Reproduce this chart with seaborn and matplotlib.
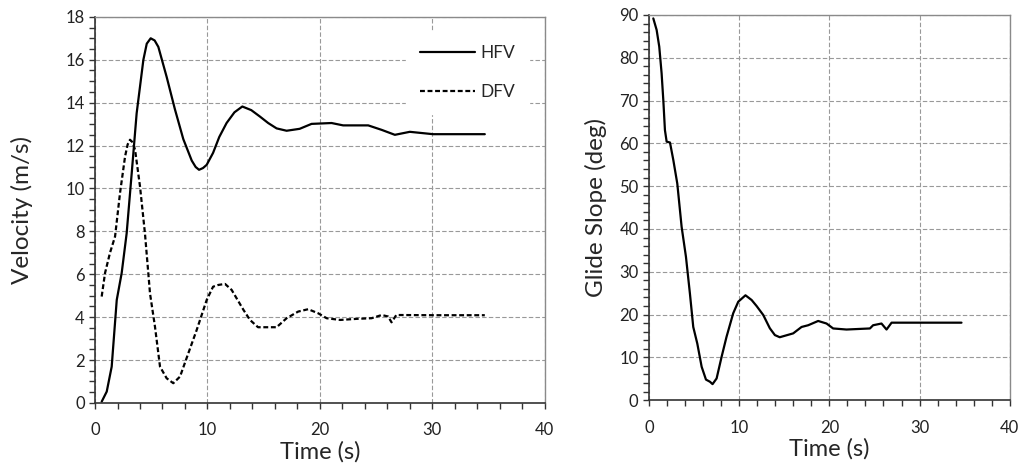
import pandas as pd
import matplotlib
matplotlib.use("Agg")
import matplotlib.pyplot as plt
from matplotlib.ticker import MultipleLocator
import seaborn as sns

# Velocity curves
hfv_t = [0.59, 1.04, 1.48, 1.93, 2.37, 2.81, 3.26, 3.7, 4.3, 4.6, 4.95, 5.3, 5.63, 6.37, 7.1,
         7.85, 8.6, 8.95, 9.25, 9.6, 9.93, 10.5, 11.05, 11.7, 12.4, 13.1, 13.9, 14.67, 15.4,
         16.15, 17.04, 18.2, 19.26, 21.04, 22.07, 24.3, 25.5, 26.67, 28.0, 30.07, 34.67]
hfv_v = [0.06, 0.53, 1.69, 4.8, 6.06, 7.9, 10.7, 13.5, 16.0, 16.75, 17.0, 16.9, 16.6, 15.2, 13.7,
         12.3, 11.3, 11.0, 10.87, 10.95, 11.1, 11.66, 12.4, 13.05, 13.55, 13.82, 13.65, 13.35, 13.05,
         12.8, 12.69, 12.78, 13.01, 13.05, 12.94, 12.94, 12.73, 12.5, 12.64, 12.53, 12.53]

dfv_t = [0.59, 0.89, 1.33, 1.78, 2.22, 2.67, 2.9, 3.11, 3.35, 3.56, 4.0, 4.44, 4.89, 5.33, 5.78,
         6.37, 6.96, 7.56, 8.3, 9.04, 9.93, 10.5, 10.96, 11.56, 12.15, 13.2, 13.78, 14.5, 16.15,
         17.04, 18.07, 18.96, 19.85, 20.6, 21.8, 23.26, 24.6, 25.5, 26.07, 26.37, 26.8,
         30.07, 34.67]
dfv_v = [4.96, 6.06, 7.0, 7.76, 9.78, 11.49, 12.05, 12.27, 12.15, 11.8, 10.09, 7.9, 5.1, 3.56, 1.69,
         1.15, 0.92, 1.23, 2.32, 3.4, 4.8, 5.42, 5.5, 5.55, 5.27, 4.34, 3.87, 3.53, 3.53,
         3.95, 4.26, 4.37, 4.18, 3.95, 3.87, 3.92, 3.95, 4.1, 4.03, 3.76, 4.1,
         4.09, 4.09]

# Glide slope curve
gs_t = [0.48, 0.85, 1.14, 1.4, 1.59, 1.77, 1.96, 2.33, 2.7, 3.14, 3.62, 4.1, 4.54, 4.91,
        5.36, 5.84, 6.32, 6.76, 7.05, 7.5, 8.05, 8.6, 9.34, 9.9, 10.7, 11.38, 11.93,
        12.67, 13.4, 13.96, 14.5, 15.99, 16.92, 17.65, 18.76, 19.69, 20.42, 21.9, 24.5,
        24.85, 25.78, 26.34, 26.9, 30.03, 34.65]
gs_v = [89.2, 86.5, 82.6, 76.4, 70.1, 63.1, 60.4, 60.2, 56.1, 50.6, 40.5, 33.5, 24.9, 17.1,
        13.2, 7.8, 4.8, 4.3, 3.74, 5.07, 10.1, 14.8, 20.3, 23.0, 24.5, 23.4, 22.0,
        19.9, 16.8, 15.2, 14.7, 15.6, 17.1, 17.5, 18.5, 17.9, 16.75, 16.5, 16.75,
        17.5, 17.9, 16.5, 18.1, 18.1, 18.1]

df_hfv = pd.DataFrame({"t": hfv_t, "v": hfv_v})
df_dfv = pd.DataFrame({"t": dfv_t, "v": dfv_v})
df_gs = pd.DataFrame({"t": gs_t, "g": gs_v})

sns.set_style("white")
plt.rcParams["font.family"] = ["Lato", "DejaVu Sans"]

fig = plt.figure(figsize=(10.22, 4.68), dpi=100)
ax1 = fig.add_axes([0.093, 0.139, 0.44, 0.825])
ax2 = fig.add_axes([0.635, 0.145, 0.353, 0.823])

sns.lineplot(data=df_hfv, x="t", y="v", ax=ax1, color="black", lw=1.6, label="HFV")
sns.lineplot(data=df_dfv, x="t", y="v", ax=ax1, color="black", lw=1.6,
             linestyle=(0, (2.2, 1.2)), label="DFV")
sns.lineplot(data=df_gs, x="t", y="g", ax=ax2, color="black", lw=1.6)


def style_axes(ax, ymax, ymajor, yminor, ylabel, ypad):
    ax.set_xlim(0, 40)
    ax.set_ylim(0, ymax)
    ax.xaxis.set_major_locator(MultipleLocator(10))
    ax.xaxis.set_minor_locator(MultipleLocator(2))
    ax.yaxis.set_major_locator(MultipleLocator(ymajor))
    ax.yaxis.set_minor_locator(MultipleLocator(yminor))
    ax.grid(True, which="major", linestyle=(0, (4, 2)), color="#999999", lw=0.8)
    ax.set_axisbelow(True)
    ax.tick_params(which="both", direction="out", length=4, width=1, color="#333333",
                   labelsize=12, labelcolor="#222222", bottom=True, left=True)
    ax.tick_params(axis="x", pad=10)
    for s in ["left", "bottom"]:
        ax.spines[s].set_color("#333333")
        ax.spines[s].set_linewidth(1.2)
    for s in ["top", "right"]:
        ax.spines[s].set_color("#8a8a8a")
        ax.spines[s].set_linewidth(1.0)
    ax.set_xlabel("Time (s)", fontsize=17, labelpad=2)
    ax.set_ylabel(ylabel, fontsize=17.5, labelpad=ypad)


style_axes(ax1, 18, 2, 0.5, "Velocity (m/s)", 23)
style_axes(ax2, 90, 10, 2, "Glide Slope (deg)", 9)

leg = ax1.legend(loc="upper right", bbox_to_anchor=(0.985, 0.985), frameon=True,
                 fontsize=12.5, handlelength=3.2, labelspacing=1.3, handletextpad=0.3,
                 borderpad=0.8)
leg.get_frame().set_facecolor("white")
leg.get_frame().set_edgecolor("white")
leg.get_frame().set_alpha(1)

fig.savefig("out.png", dpi=100)
